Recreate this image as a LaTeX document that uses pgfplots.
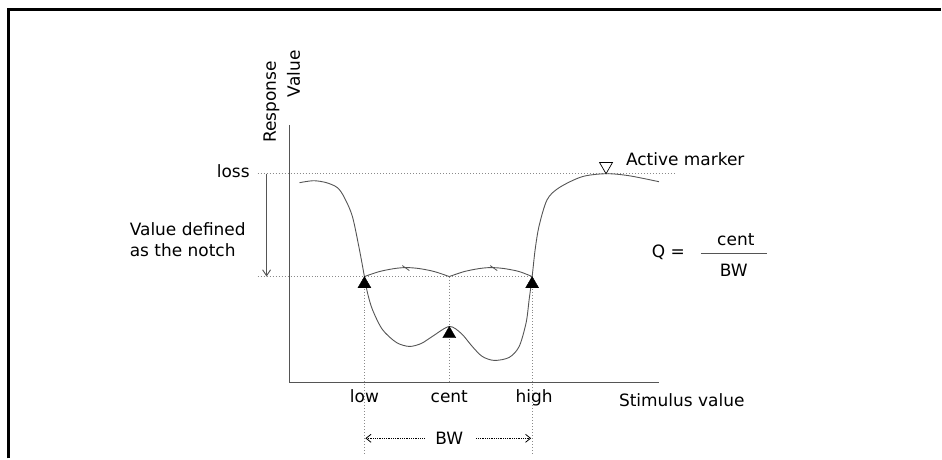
\documentclass[border=0pt]{standalone}
\usepackage{fontspec}
\setmainfont{DejaVu Sans}
\usepackage{pgfplots}
\pgfplotsset{compat=1.18}
\usetikzlibrary{arrows.meta}

\definecolor{axisgray}{HTML}{555555}
\definecolor{dotgray}{HTML}{8A8A8A}

\begin{document}
\begin{tikzpicture}[font=\fontsize{17}{21}\selectfont]
\tikzset{lbl/.style={font=\fontsize{17}{21}\selectfont, inner sep=0pt, outer sep=0pt}}
\begin{axis}[
  width=942pt, height=459pt, scale only axis,
  xmin=0, xmax=942, ymin=0, ymax=459,
  hide axis, clip=false,
]
% keep the full canvas
\addplot[draw=none] coordinates {(0,0) (942,459)};

% frame (top and left edges only)
\addplot[black, line width=3pt] coordinates {(8.5,0) (8.5,449) (942,449)};

% axes
\addplot[axisgray, line width=1.2pt] coordinates {(290,334) (290,76) (660,76)};

% dotted reference levels
\addplot[dotgray, dotted, line width=1pt] coordinates {(258,285) (676,285)};
\addplot[dotgray, dotted, line width=1pt] coordinates {(258,182) (533,182)};
\addplot[dotgray, dotted, line width=1pt] coordinates {(365,182) (365,4)};
\addplot[dotgray, dotted, line width=1pt] coordinates {(533,182) (533,4)};
\addplot[dotgray, dotted, line width=1pt] coordinates {(450,182) (450,76)};

% notch arrow
\addplot[axisgray, line width=0.9pt, -{Straight Barb[length=6pt,width=8pt]}] coordinates {(267,285) (267,182)};

% BW arrows
\addplot[black, densely dotted, line width=0.8pt, -{Straight Barb[length=5pt,width=8pt]}] coordinates {(425,20) (366,20)};
\addplot[black, densely dotted, line width=0.8pt, -{Straight Barb[length=5pt,width=8pt]}] coordinates {(477,20) (532,20)};

% response curve
\addplot[axisgray, line width=0.9pt, smooth, tension=0.5] coordinates {
  (300,276) (314,278) (327,276) (338,271) (345,261) (353,242) (360,209)
  (365,182) (368,166) (373,149) (383,129) (397,116) (410,112) (422,115)
  (433,122) (450,132) (462,125) (473,112) (483,102) (495,98) (510,101)
  (520,112) (527,136) (530,159) (533,182) (536,209) (540,233) (548,259)
  (560,271) (583,282) (607,285) (630,283) (660,277)
};

% arcs between markers
\addplot[axisgray, line width=0.9pt, smooth] coordinates {
  (365,182) (380,187) (395,190) (407,191) (420,190) (435,187) (450,182)
};
\addplot[axisgray, line width=0.9pt, smooth] coordinates {
  (450,182) (465,187) (480,190) (492,191) (505,190) (520,187) (533,182)
};
\addplot[axisgray, line width=0.8pt] coordinates {(403,193) (410,188)};
\addplot[axisgray, line width=0.8pt] coordinates {(491,193) (498,188)};

% markers
\addplot[only marks, black, mark=triangle*, mark size=7.5pt] coordinates {
  (365,174.5) (533,174.5) (450,124.5)
};
\addplot[only marks, black, mark=triangle, mark size=7.5pt,
  mark options={rotate=180, line width=0.7pt}] coordinates {(607,292.5)};

% fraction line
\addplot[axisgray, line width=1pt] coordinates {(702,205) (768,205)};

% text
\node[lbl, rotate=90] at (axis cs:272,357) {Response};
\node[lbl, rotate=90] at (axis cs:294,385) {Value};
\node[lbl, anchor=east] at (axis cs:250,287.5) {loss};
\node[lbl, anchor=base west] at (axis cs:130,223) {Value defined};
\node[lbl, anchor=base west] at (axis cs:130,202) {as the notch};
\node[lbl, anchor=base west] at (axis cs:627,293) {Active marker};
\node[lbl, anchor=base west] at (axis cs:653,201) {Q =};
\node[lbl, anchor=base] at (axis cs:737,213) {cent};
\node[lbl, anchor=base] at (axis cs:735,182) {BW};
\node[lbl, anchor=base] at (axis cs:365,56) {low};
\node[lbl, anchor=base] at (axis cs:450,56) {cent};
\node[lbl, anchor=base] at (axis cs:535,56) {high};
\node[lbl, anchor=base west] at (axis cs:620,52) {Stimulus value};
\node[lbl, anchor=base] at (axis cs:450,14) {BW};
\end{axis}
\end{tikzpicture}
\end{document}
